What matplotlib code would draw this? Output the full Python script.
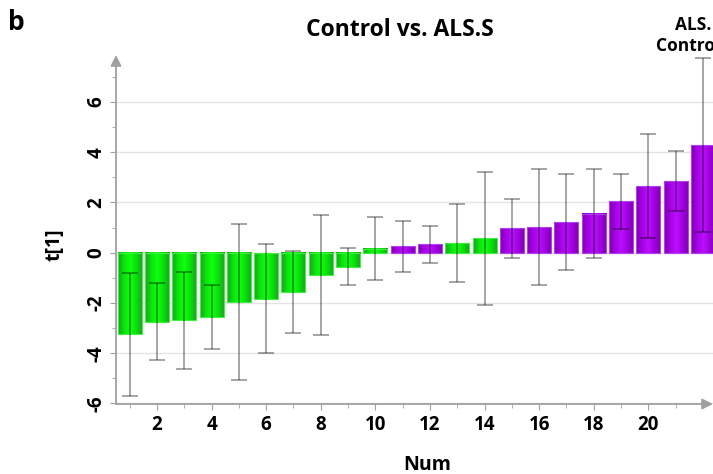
import numpy as np
import matplotlib
matplotlib.use("Agg")
import matplotlib.pyplot as plt
from matplotlib.colors import LinearSegmentedColormap

# t[1] scores with confidence half-widths
nums = list(range(1, 23))
t1 = [-3.25, -2.75, -2.69, -2.56, -1.96, -1.83, -1.56, -0.89, -0.56, 0.16, 0.25,
      0.33, 0.38, 0.57, 0.97, 1.02, 1.22, 1.56, 2.05, 2.65, 2.85, 4.28]
ci = [2.45, 1.53, 1.94, 1.28, 3.12, 2.17, 1.62, 2.40, 0.73, 1.25, 1.00,
      0.74, 1.55, 2.66, 1.16, 2.32, 1.92, 1.78, 1.10, 2.06, 1.18, 3.47]
groups = ["Control"] * 10 + ["ALS.S"] * 2 + ["Control"] * 2 + ["ALS.S"] * 8
xticks = [2, 4, 6, 8, 10, 12, 14, 16, 18, 20]
yticks = [-6, -4, -2, 0, 2, 4, 6]

plt.rcParams["font.family"] = ["Open Sans", "DejaVu Sans"]
plt.rcParams["font.weight"] = "bold"
plt.rcParams["axes.unicode_minus"] = False

cmaps = {
    "Control": LinearSegmentedColormap.from_list("g", ["#1f9a2a", "#08e808", "#10ff10", "#08e008", "#1f9a2a"]),
    "ALS.S": LinearSegmentedColormap.from_list("p", ["#7a00a8", "#a800e8", "#bb10ff", "#a000e0", "#7a00a8"]),
}
edges = {"Control": "#40f040", "ALS.S": "#b040f0"}

fig = plt.figure(figsize=(7.13, 4.74), dpi=100)
ax = fig.add_axes([116 / 713, 1 - 404 / 474, 1 - 116 / 713, (404 - 55) / 474])

width = 0.88
grad = np.linspace(0, 1, 64).reshape(1, -1)
for x, v, g in zip(nums, t1, groups):
    ax.imshow(grad, extent=[x - width / 2, x + width / 2, min(0, v), max(0, v)],
              aspect="auto", cmap=cmaps[g], zorder=2, interpolation="bilinear")
    ax.bar(x, v, width=width, facecolor="none", edgecolor=edges[g], linewidth=0.8, zorder=3)

ax.errorbar(nums, t1, yerr=ci, fmt="none", ecolor=(0, 0, 0, 0.45), elinewidth=1.1,
            capsize=5.8, capthick=1.1, zorder=4)

ax.set_xlim(0.5, 22.37)
ax.set_ylim(-6.02, 7.87)
ax.set_xticks(xticks)
ax.set_xticks(range(1, 23), minor=True)
ax.set_yticks(yticks)
ax.set_yticks(range(-5, 8, 2), minor=True)
ax.tick_params(axis="both", which="both", direction="out", color="#a0a0a0", labelsize=13.5)
ax.tick_params(which="major", length=4)
ax.tick_params(which="minor", length=3)
ax.tick_params(axis="y", labelrotation=90, pad=3)
for lab in ax.get_yticklabels():
    lab.set_va("center")
ax.tick_params(axis="x", pad=4)

ax.grid(axis="y", color="#e4e4e4", linewidth=1.0, zorder=0)
ax.set_axisbelow(True)
for s in ax.spines.values():
    s.set_visible(False)

arrow = dict(arrowstyle="-|>", color="#a0a0a0", lw=1.3, mutation_scale=16, shrinkA=0, shrinkB=0)
ax.annotate("", xy=(0, 1), xytext=(0, 0), xycoords="axes fraction", arrowprops=arrow, annotation_clip=False)
ax.annotate("", xy=(1, 0), xytext=(0, 0), xycoords="axes fraction", arrowprops=arrow, annotation_clip=False)

ax.set_xlabel("Num", fontsize=14, fontweight="bold")
ax.xaxis.set_label_coords((427 - 116) / 597, -0.145)
ax.set_ylabel("t[1]", fontsize=14, fontweight="bold")
ax.yaxis.set_label_coords(-(116 - 65) / 597, (404 - 245) / 349)

fig.text(400 / 713, 1 - 30 / 474, "Control vs. ALS.S", ha="center", va="center", fontsize=16.5, fontweight="bold")
fig.text(8 / 713, 1 - 22 / 474, "b", ha="left", va="center", fontsize=19, fontweight="bold")
fig.text(675 / 713, 1 - 25 / 474, "ALS.", ha="left", va="center", fontsize=12.5, fontweight="bold")
fig.text(656 / 713, 1 - 46 / 474, "Control", ha="left", va="center", fontsize=12.5, fontweight="bold")

fig.savefig("out.png", dpi=100)
